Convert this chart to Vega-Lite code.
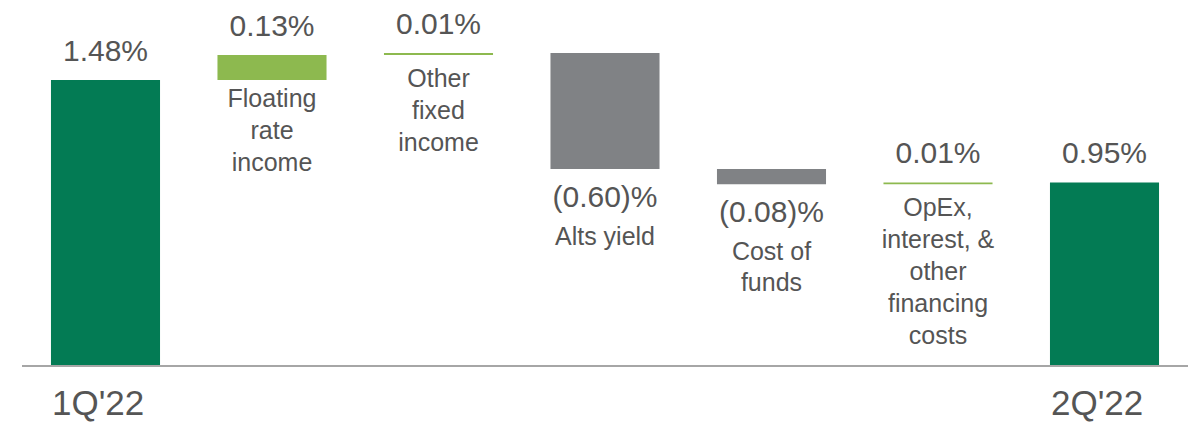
{
  "$schema": "https://vega.github.io/schema/vega-lite/v6.json",
  "width": 1166,
  "height": 366,
  "padding": {"left": 22, "top": 0, "right": 0, "bottom": 56},
  "autosize": {"type": "none"},
  "config": {"view": {"stroke": null}, "font": "Liberation Sans"},
  "data": {"values": [
    {"step": "1Q'22", "kind": "total", "start": 0, "end": 1.48, "value": "1.48%", "label": ["1Q'22"]},
    {"step": "Floating rate income", "kind": "up", "start": 1.48, "end": 1.61, "value": "0.13%", "label": ["Floating", "rate", "income"]},
    {"step": "Other fixed income", "kind": "up_small", "start": 1.61, "end": 1.62, "value": "0.01%", "label": ["Other", "fixed", "income"]},
    {"step": "Alts yield", "kind": "down", "start": 1.62, "end": 1.02, "value": "(0.60)%", "label": ["Alts yield"]},
    {"step": "Cost of funds", "kind": "down", "start": 1.02, "end": 0.94, "value": "(0.08)%", "label": ["Cost of", "funds"]},
    {"step": "OpEx, interest, & other financing costs", "kind": "up_small", "start": 0.94, "end": 0.95, "value": "0.01%", "label": ["OpEx,", "interest, &", "other", "financing", "costs"]},
    {"step": "2Q'22", "kind": "total", "start": 0, "end": 0.95, "value": "0.95%", "label": ["2Q'22"]}
  ]},
  "layer": [
    {
      "mark": {"type": "bar"},
      "encoding": {
        "x": {"field": "step", "type": "ordinal", "sort": null, "scale": {"paddingInner": 0.345, "paddingOuter": 0.174}, "axis": null},
        "y": {"field": "start", "type": "quantitative", "scale": {"domain": [0, 1.894], "nice": false, "zero": false}, "axis": null},
        "y2": {"field": "end"},
        "color": {"field": "kind", "type": "nominal", "scale": {"domain": ["total", "up", "up_small", "down"], "range": ["#037B54", "#8DB94F", "#8DB94F", "#808285"]}, "legend": null}
      }
    },
    {
      "mark": {"type": "rule", "color": "#A6A6A6", "strokeWidth": 2},
      "encoding": {"y": {"datum": 0, "type": "quantitative"}}
    },
    {
      "transform": [{"filter": "datum.kind != 'down'"}],
      "mark": {"type": "text", "fontSize": 30, "color": "#555555", "baseline": "alphabetic", "dy": -19},
      "encoding": {
        "x": {"field": "step", "type": "ordinal", "sort": null, "axis": null},
        "y": {"field": "end", "type": "quantitative"},
        "text": {"field": "value"}
      }
    },
    {
      "transform": [{"filter": "datum.kind == 'down'"}],
      "mark": {"type": "text", "fontSize": 30, "color": "#555555", "baseline": "alphabetic", "dy": 38},
      "encoding": {
        "x": {"field": "step", "type": "ordinal", "sort": null, "axis": null},
        "y": {"field": "end", "type": "quantitative"},
        "text": {"field": "value"}
      }
    },
    {
      "transform": [{"filter": "datum.kind == 'up'"}],
      "mark": {"type": "text", "fontSize": 25, "color": "#555555", "baseline": "alphabetic", "dy": 27, "lineHeight": 32},
      "encoding": {
        "x": {"field": "step", "type": "ordinal", "sort": null, "axis": null},
        "y": {"field": "start", "type": "quantitative"},
        "text": {"field": "label"}
      }
    },
    {
      "transform": [{"filter": "datum.kind == 'up_small'"}],
      "mark": {"type": "text", "fontSize": 25, "color": "#555555", "baseline": "alphabetic", "dy": 32, "lineHeight": 32},
      "encoding": {
        "x": {"field": "step", "type": "ordinal", "sort": null, "axis": null},
        "y": {"field": "start", "type": "quantitative"},
        "text": {"field": "label"}
      }
    },
    {
      "transform": [{"filter": "datum.kind == 'down'"}],
      "mark": {"type": "text", "fontSize": 25, "color": "#555555", "baseline": "alphabetic", "dy": 76, "lineHeight": 31},
      "encoding": {
        "x": {"field": "step", "type": "ordinal", "sort": null, "axis": null},
        "y": {"field": "end", "type": "quantitative"},
        "text": {"field": "label"}
      }
    },
    {
      "transform": [{"filter": "datum.kind == 'total'"}],
      "mark": {"type": "text", "fontSize": 35, "color": "#555555", "baseline": "alphabetic", "align": "left", "dy": 49, "dx": 1},
      "encoding": {
        "x": {"field": "step", "type": "ordinal", "sort": null, "axis": null, "bandPosition": 0},
        "y": {"datum": 0, "type": "quantitative"},
        "text": {"field": "label"}
      }
    }
  ]
}
